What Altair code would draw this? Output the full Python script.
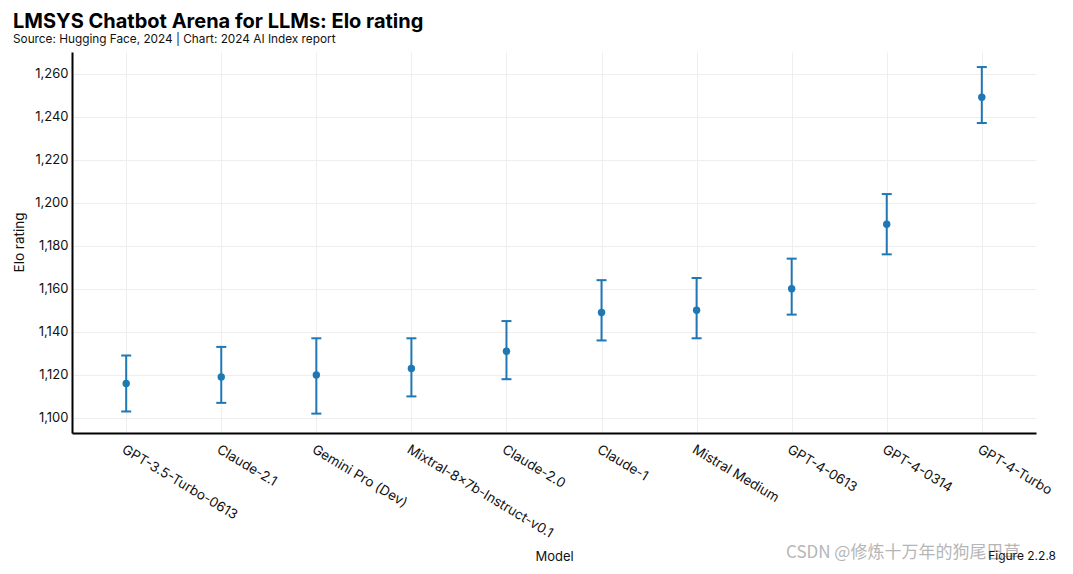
import altair as alt
import pandas as pd

models = ["GPT-3.5-Turbo-0613", "Claude-2.1", "Gemini Pro (Dev)", "Mixtral-8x7b-Instruct-v0.1",
          "Claude-2.0", "Claude-1", "Mistral Medium", "GPT-4-0613", "GPT-4-0314", "GPT-4-Turbo"]
elo = [1116, 1119, 1120, 1123, 1131, 1149, 1150, 1160, 1190, 1249]
upper = [1129, 1133, 1137, 1137, 1145, 1164, 1165, 1174, 1204, 1263]
lower = [1103, 1107, 1102, 1110, 1118, 1136, 1137, 1148, 1176, 1237]

df = pd.DataFrame({"Model": models, "Elo": elo, "Upper": upper, "Lower": lower})

FONT = "Inter"
BLUE = "#1f77b4"

x = alt.X("Model:N", sort=models, title="Model",
          scale=alt.Scale(type="point", padding=0.57),
          axis=alt.Axis(labelAngle=31, labelAlign="left", labelBaseline="top",
                        labelPadding=9, ticks=False, domainColor="black", domainWidth=2,
                        gridColor="#eeeeee", grid=True, labelFontSize=13.5, labelColor="#111",
                        labelFont=FONT, titleFont=FONT, titleFontSize=13, titleFontWeight="normal",
                        titleY=117, titleBaseline="top", titleColor="#111"))
y_scale = alt.Scale(domain=[1093, 1270], nice=False, zero=False)
y_axis = alt.Axis(values=list(range(1100, 1261, 20)), format=",.0f", ticks=False,
                  domainColor="black", domainWidth=2, gridColor="#eeeeee",
                  labelFontSize=13, labelColor="#111", labelFont=FONT, labelPadding=4,
                  titleFont=FONT, titleFontSize=13.5, titleFontWeight="normal", titleColor="#111",
                  titleX=-53, titleY=190, titleAngle=-90, titleBaseline="middle", titleAlign="center")

def yenc(field):
    return alt.Y(field, scale=y_scale, axis=y_axis, title="Elo rating")

base = alt.Chart(df)
rules = base.mark_rule(color=BLUE, strokeWidth=2, opacity=1).encode(
    x=x, y=yenc("Lower:Q"), y2="Upper:Q")
cap_hi = base.mark_tick(color=BLUE, size=10, thickness=2, opacity=1).encode(x=x, y=yenc("Upper:Q"))
cap_lo = base.mark_tick(color=BLUE, size=10, thickness=2, opacity=1).encode(x=x, y=yenc("Lower:Q"))
pts = base.mark_circle(color=BLUE, size=55, opacity=1).encode(x=x, y=yenc("Elo:Q"))

fig_note = alt.Chart(pd.DataFrame({"t": ["Figure 2.2.8"]})).mark_text(
    font=FONT, fontSize=12, align="right", baseline="middle", color="#111"
).encode(text="t:N", x=alt.value(984), y=alt.value(381 + 123))

watermark = alt.Chart(pd.DataFrame({"t": ["CSDN @修炼十万年的狗尾巴草"]})).mark_text(
    font="Noto Sans CJK SC", fontSize=17, align="left", baseline="middle", color="#aaaaaa", opacity=0.85
).encode(text="t:N", x=alt.value(714), y=alt.value(381 + 120))

chart = alt.layer(rules, cap_hi, cap_lo, pts, watermark, fig_note).properties(
    width=964, height=381,
    background="white",
    autosize=alt.AutoSizeParams(type="none"),
    padding={"left": 64, "top": 44, "right": 21, "bottom": 130},
    title=alt.TitleParams(
        text="LMSYS Chatbot Arena for LLMs: Elo rating",
        subtitle="Source: Hugging Face, 2024 | Chart: 2024 AI Index report",
        anchor="start", frame="group", dx=-59, offset=6,
        font=FONT, fontSize=20, fontWeight="bold", color="#000",
        subtitleFont=FONT, subtitleFontSize=11.8, subtitleColor="#111", subtitlePadding=2,
    ),
).configure_view(strokeWidth=0, stroke="transparent")

chart.save("out.html", embed_options={"renderer": "svg", "actions": False})
